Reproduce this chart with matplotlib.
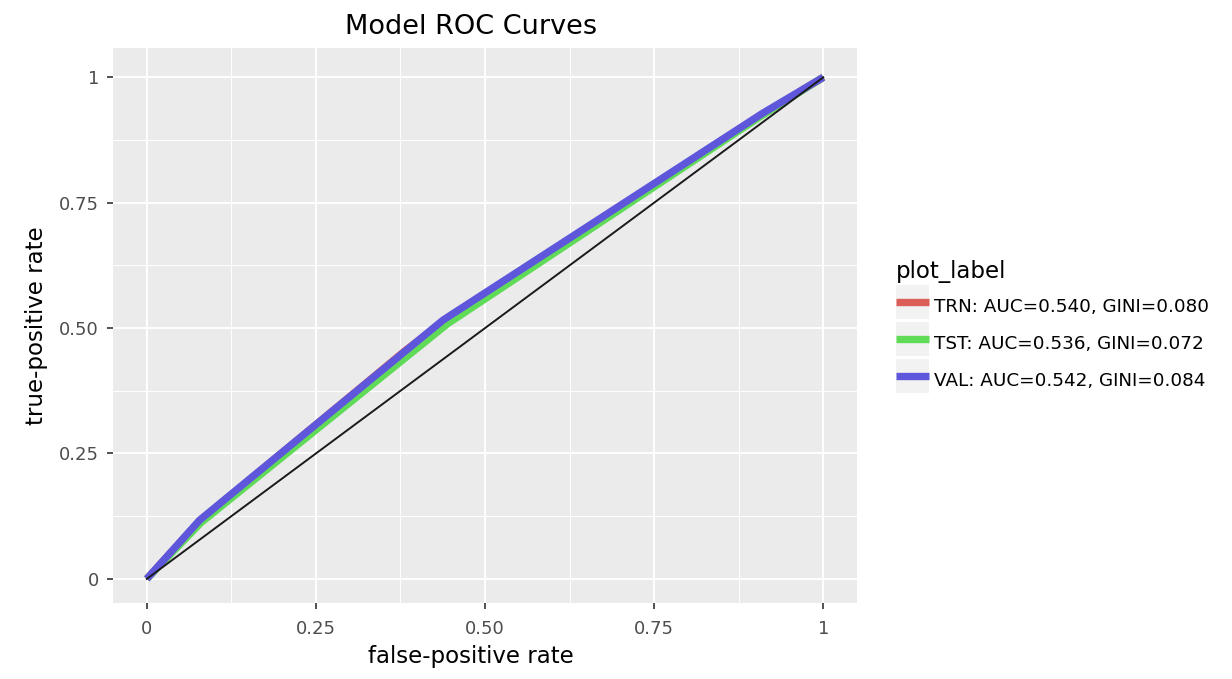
import matplotlib
matplotlib.use("Agg")
import matplotlib.pyplot as plt
from matplotlib.legend_handler import HandlerLine2D
from matplotlib.patches import Rectangle

# ROC points
trn_fpr = [0.0, 0.078, 0.38, 0.44, 0.91, 1.0]
trn_tpr = [0.0, 0.115, 0.453, 0.515, 0.926, 1.0]
tst_fpr = [0.0, 0.08, 0.445, 0.905, 1.0]
tst_tpr = [0.0, 0.112, 0.509, 0.92, 1.0]
val_fpr = [0.0, 0.078, 0.438, 0.91, 1.0]
val_tpr = [0.0, 0.117, 0.516, 0.928, 1.0]

labels = ["TRN: AUC=0.540, GINI=0.080",
          "TST: AUC=0.536, GINI=0.072",
          "VAL: AUC=0.542, GINI=0.084"]
colors = ["#db5f57", "#5fdb57", "#5f57db"]

ticks = [0, 0.25, 0.5, 0.75, 1]
tick_labels = ["0", "0.25", "0.50", "0.75", "1"]


class KeyHandler(HandlerLine2D):
    # ggplot style legend key: grey box behind the line
    def create_artists(self, legend, orig_handle, xdescent, ydescent, width, height, fontsize, trans):
        ymid = (height - ydescent) / 2.0
        box = Rectangle((-xdescent, ymid - 12.2), width, 24.4, facecolor="#F2F2F2",
                        edgecolor="none", transform=trans)
        arts = super().create_artists(legend, orig_handle, xdescent, ydescent, width, height, fontsize, trans)
        return [box] + arts


fig = plt.figure(figsize=(12.32, 6.79), dpi=100)
ax = fig.add_axes([0.0917, 0.112, 0.604, 0.817])
ax.set_facecolor("#EBEBEB")
for s in ax.spines.values():
    s.set_visible(False)

ax.set_xlim(-0.05, 1.05)
ax.set_ylim(-0.048, 1.058)
ax.set_xticks(ticks)
ax.set_xticklabels(tick_labels)
ax.set_yticks(ticks)
ax.set_yticklabels(tick_labels)
ax.set_xticks([0.125, 0.375, 0.625, 0.875], minor=True)
ax.set_yticks([0.125, 0.375, 0.625, 0.875], minor=True)
ax.grid(which="major", color="white", linewidth=1.4)
ax.grid(which="minor", color="white", linewidth=0.7)
ax.set_axisbelow(True)
ax.tick_params(which="major", length=4, width=1.2, color="#333333", labelsize=13,
               labelcolor="#4d4d4d")
ax.tick_params(axis="x", which="major", pad=8)
ax.tick_params(axis="y", which="major", pad=6)
ax.tick_params(which="minor", length=0)

for fpr, tpr, lab, c in zip([trn_fpr, tst_fpr, val_fpr], [trn_tpr, tst_tpr, val_tpr], labels, colors):
    ax.plot(fpr, tpr, color=c, linewidth=5.3, label=lab, solid_capstyle="butt")
ax.plot([0, 1], [0, 1], color="#1a1a1a", linewidth=1.4)

ax.set_title("Model ROC Curves", fontsize=19.5, pad=10, x=0.481)
ax.set_xlabel("false-positive rate", fontsize=16.5)
ax.xaxis.set_label_coords(0.481, -0.075)
ax.set_ylabel("true-positive rate", fontsize=16.5, labelpad=8)

handles, labs = ax.get_legend_handles_labels()
leg = fig.legend(handles[:3], labs[:3], title="plot_label", loc="upper left",
                 bbox_to_anchor=(0.727, 0.617), frameon=False, fontsize=13.2,
                 title_fontsize=16.5, handlelength=1.8, handleheight=1.95,
                 labelspacing=0.5, handletextpad=0.27, borderaxespad=0, borderpad=0,
                 handler_map={h: KeyHandler() for h in handles[:3]})
leg._legend_box.align = "left"

fig.savefig("out.png", dpi=100)
